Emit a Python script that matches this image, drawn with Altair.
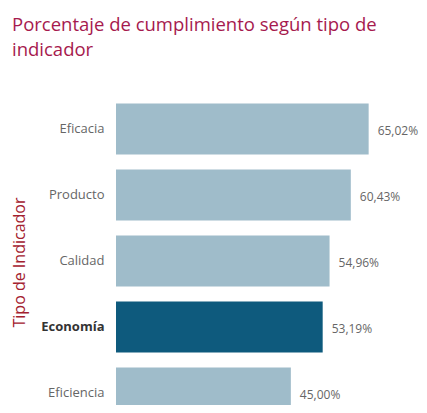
import altair as alt
import pandas as pd

categorias = ["Eficacia", "Producto", "Calidad", "Economía", "Eficiencia"]
valores = [65.02, 60.43, 54.96, 53.19, 45.00]
destacado = ["Economía"]

df = pd.DataFrame({"tipo": categorias, "valor": valores})
df["resaltado"] = df["tipo"].isin(destacado)

FONT = "Open Sans"

y_enc = alt.Y(
    "tipo:N",
    sort=categorias,
    scale=alt.Scale(range=[1, 331], paddingInner=0.23, paddingOuter=0.115),
    axis=alt.Axis(
        title="Tipo de Indicador",
        titleFont=FONT,
        titleFontSize=16,
        titleFontWeight="normal",
        titleColor="#A3202E",
        titleAngle=270,
        titleX=-92,
        titleY=167,
        titleAlign="center",
        titleBaseline="alphabetic",
        labelFont=FONT,
        labelFontSize=13,
        labelColor={"condition": {"test": "datum.value == 'Economía'", "value": "#333333"}, "value": "#666666"},
        labelFontWeight={"condition": {"test": "datum.value == 'Economía'", "value": "bold"}, "value": "normal"},
        labelPadding=12,
        ticks=False,
        domain=False,
        grid=False,
    ),
)

x_enc = alt.X("valor:Q", scale=alt.Scale(domain=[0, 70]), axis=None)

base = alt.Chart(df).encode(y=y_enc, x=x_enc)

bars = base.mark_bar(clip=True).encode(
    color=alt.condition("datum.resaltado", alt.value("#0E5A7D"), alt.value("#9FBCCA"))
)

text = base.mark_text(align="left", baseline="middle", dx=9, dy=2, font=FONT, fontSize=12, color="#666666").transform_calculate(
    etiqueta="replace(format(datum.valor, '.2f'), '.', ',') + '%'"
).encode(text="etiqueta:N")

chart = (
    alt.layer(bars, text)
    .properties(
        width=272,
        height=310,
        autosize=alt.AutoSizeParams(type="none"),
        padding={"left": 108, "top": 87, "right": 31, "bottom": 0},
        title=alt.TitleParams(
            text=["Porcentaje de cumplimiento según tipo de", "indicador"],
            anchor="start",
            frame="group",
            dx=-104,
            offset=36,
            font=FONT,
            fontSize=18.5,
            fontWeight="normal",
            color="#A61A4E",
            lineHeight=25,
        ),
    )
    .configure_view(stroke=None)
)

chart.save("out.html", embed_options={"renderer": "svg", "actions": False})
